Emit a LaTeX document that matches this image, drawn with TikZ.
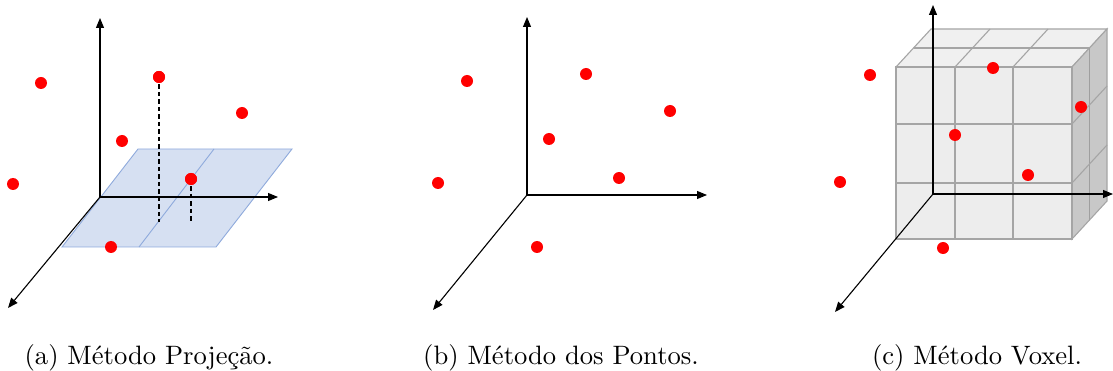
\documentclass[tikz,border=0pt]{standalone}
\usepackage{fontspec}
\newfontfamily\capfont{lmroman10-regular}[Extension=.otf]
\usetikzlibrary{arrows.meta}
\definecolor{planefill}{RGB}{214,224,242}
\definecolor{planeline}{RGB}{143,170,220}
\definecolor{vfront}{RGB}{237,237,237}
\definecolor{vtop}{RGB}{240,240,240}
\definecolor{vside}{RGB}{200,200,200}
\definecolor{vline}{RGB}{165,165,165}
\definecolor{dotred}{RGB}{255,0,0}
\tikzset{
  axis/.style={line width=1.1pt,-{Triangle[length=10pt,width=8pt]}},
  dot/.style={circle,fill=dotred,inner sep=0pt,minimum size=12pt},
  planestyle/.style={fill=planefill,draw=planeline,line width=0.9pt},
  vox/.style={draw=vline,line width=1.1pt},
  proj/.style={line width=1.1pt,dash pattern=on 4.5pt off 3pt},
  captext/.style={anchor=base,font=\capfont\fontsize{26.6}{30}\selectfont,inner sep=0pt}
}
\begin{document}
\begin{tikzpicture}[x=1pt,y=-1pt]
\useasboundingbox (0,0) rectangle (1113,371);
% ---------- panel (a)
\coordinate (Oa) at (100,197);
\coordinate (Ya) at (100,18);
\coordinate (Xa) at (278,197);
\coordinate (Za) at (8,308);
\coordinate (P1) at (138,149);
\coordinate (P2) at (292,149);
\coordinate (P3) at (216,247);
\coordinate (P4) at (62,247);
\coordinate (Pm1) at (214,149);
\coordinate (Pm2) at (139,247);
\coordinate (Ph2) at (254,197);
\filldraw[planestyle] (P1) -- (P2) -- (P3) -- (P4) -- cycle;
\draw[planestyle,fill=none] (Pm1) -- (Pm2);
\draw[planestyle,fill=none] (Oa) -- (Ph2);
\draw[axis] (Oa) -- (Ya);
\draw[axis] (Oa) -- (Xa);
\draw[axis] (Oa) -- (Za);
\node[dot] (a1) at (41,83) {};
\node[dot] (a2) at (159,77) {};
\node[dot] (a3) at (242,113) {};
\node[dot] (a4) at (122,141) {};
\node[dot] (a5) at (13,184) {};
\node[dot] (a6) at (191,179) {};
\node[dot] (a7) at (111,247) {};
\coordinate (a2p) at (159,222);
\coordinate (a6p) at (191,222);
\draw[proj] (a2.center) -- (a2p);
\draw[proj] (a6.center) -- (a6p);
\node[dot] at (a2) {};
\node[dot] at (a6) {};
% ---------- panel (b)
\coordinate (Ob) at (527,195);
\coordinate (Yb) at (527,17);
\coordinate (Xb) at (707,195);
\coordinate (Zb) at (433,310);
\draw[axis] (Ob) -- (Yb);
\draw[axis] (Ob) -- (Xb);
\draw[axis] (Ob) -- (Zb);
\node[dot] (b1) at (467,81) {};
\node[dot] (b2) at (586,74) {};
\node[dot] (b3) at (670,111) {};
\node[dot] (b4) at (549,139) {};
\node[dot] (b5) at (438,183) {};
\node[dot] (b6) at (619,178) {};
\node[dot] (b7) at (537,247) {};
% ---------- panel (c)
% top face
\filldraw[vox,fill=vtop] (896,67) -- (1072,67) -- (1107,29) -- (931,29) -- cycle;
\draw[vox] (955,67) -- (990,29);
\draw[vox] (1013,67) -- (1048,29);
\draw[vox] (913.5,48) -- (1089.5,48);
% side face
\filldraw[vox,fill=vside] (1072,67) -- (1107,29) -- (1107,201) -- (1072,239) -- cycle;
\draw[vox,draw=gray!75] (1089.5,48) -- (1089.5,220);
\draw[vox] (1072,124) -- (1107,86);
\draw[vox] (1072,183) -- (1107,145);
% front face
\filldraw[vox,fill=vfront] (896,67) rectangle (1072,239);
\draw[vox] (955,67) -- (955,239);
\draw[vox] (1013,67) -- (1013,239);
\draw[vox] (896,124) -- (1072,124);
\draw[vox] (896,183) -- (1072,183);
\coordinate (Oc) at (933,194);
\coordinate (Yc) at (933,5);
\coordinate (Xc) at (1113,194);
\coordinate (Zc) at (835,312);
\draw[axis] (Oc) -- (Yc);
\draw[axis] (Oc) -- (Xc);
\draw[axis] (Oc) -- (Zc);
\node[dot] (c1) at (870,75) {};
\node[dot] (c2) at (993,68) {};
\node[dot] (c3) at (1081,107) {};
\node[dot] (c4) at (955,135) {};
\node[dot] (c5) at (840,182) {};
\node[dot] (c6) at (1028,175) {};
\node[dot] (c7) at (943,248) {};
% ---------- captions
\node[captext] (capa) at (149,364) {(a) Método Projeção.};
\node[captext] (capb) at (561,364) {(b) Método dos Pontos.};
\node[captext] (capc) at (977,364) {(c) Método Voxel.};
\end{tikzpicture}
\end{document}
